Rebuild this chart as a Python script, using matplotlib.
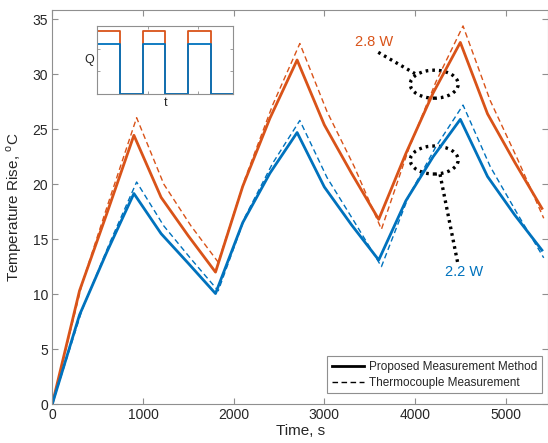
import matplotlib
matplotlib.use("Agg")
import matplotlib.pyplot as plt
from matplotlib.patches import Ellipse

plt.rcParams['font.family'] = ['Liberation Sans', 'DejaVu Sans']
plt.rcParams['mathtext.fontset'] = 'custom'
plt.rcParams['mathtext.rm'] = 'Liberation Sans'

# ---- data ----
time_s = [0, 300, 600, 900, 1200, 1500, 1800, 2100, 2400, 2700, 3000, 3300,
          3600, 3900, 4200, 4500, 4800, 5100, 5400]
time_tc = [0, 330, 630, 930, 1230, 1530, 1830, 2130, 2430, 2730, 3030, 3330,
           3630, 3930, 4230, 4530, 4830, 5130, 5420]

red_proposed = [0, 10.3, 17.3, 24.45, 18.8, 15.3, 12.0, 19.8, 26.0, 31.3, 25.4, 21.0,
                16.8, 22.8, 28.3, 32.9, 26.4, 22.0, 17.8]
blue_proposed = [0, 8.1, 13.8, 19.15, 15.5, 12.8, 10.05, 16.5, 21.0, 24.7, 19.75, 16.3,
                 13.1, 18.5, 22.5, 25.9, 20.7, 17.2, 14.0]
red_tc = [0, 11.0, 18.6, 26.05, 20.0, 16.2, 12.9, 20.6, 27.2, 32.8, 26.6, 21.6,
          15.9, 23.2, 29.3, 34.4, 27.6, 22.3, 16.9]
blue_tc = [0, 8.6, 14.6, 20.2, 16.2, 13.2, 10.3, 17.1, 21.9, 25.8, 20.6, 16.6,
           12.5, 18.9, 23.4, 27.2, 21.6, 17.3, 13.3]

# inset heat input square wave
q_time = [0, 900, 900, 1800, 1800, 2700, 2700, 3600, 3600, 4500, 4500, 5400]
q_high_red = [2.8, 2.8, 0, 0, 2.8, 2.8, 0, 0, 2.8, 2.8, 0, 0]
q_high_blue = [2.2, 2.2, 0, 0, 2.2, 2.2, 0, 0, 2.2, 2.2, 0, 0]

xticks = [0, 1000, 2000, 3000, 4000, 5000]
yticks = [0, 5, 10, 15, 20, 25, 30, 35]

# annotations
ell_28 = (4212, 29.1)
ell_22 = (4212, 22.2)
lead_28_x, lead_28_y = [3595, 4000], [32.0, 30.06]
lead_22_x, lead_22_y = [4276, 4477], [20.9, 12.6]

RED = '#D95319'
BLUE = '#0072BD'
AX = '#8f8f8f'
TXT = '#262626'
DOTS = (0, (0.8, 1.2))

W, H = 548, 443
fig = plt.figure(figsize=(W / 100, H / 100), dpi=100)
ax = fig.add_axes([52.3 / W, (H - 404) / H, (548 - 52.3) / W, (404 - 10) / H])

ax.plot(time_s, red_proposed, color=RED, lw=2.0)
ax.plot(time_tc, red_tc, color=RED, lw=1.0, ls=(0, (4, 2.5)))
ax.plot(time_s, blue_proposed, color=BLUE, lw=2.0)
ax.plot(time_tc, blue_tc, color=BLUE, lw=1.0, ls=(0, (4, 2.5)))

ax.set_xlim(0, 5467)
ax.set_ylim(0, 35.85)
ax.set_xticks(xticks)
ax.set_yticks(yticks)
ax.tick_params(direction='in', length=4, width=0.8, color=AX, labelcolor=TXT,
               labelsize=10, top=True, right=True, pad=3)
for s in ax.spines.values():
    s.set_color(AX)
    s.set_linewidth(0.8)
ax.set_xlabel('Time, s', fontsize=11, color=TXT, labelpad=1)
ax.set_ylabel(r'Temperature Rise, $^{\rm o}$C', fontsize=11, color=TXT, labelpad=6)

# legend
h1, = ax.plot([], [], color='black', lw=2.0)
h2, = ax.plot([], [], color='black', lw=1.0, ls=(0, (4, 2.5)))
leg = ax.legend([h1, h2], ['Proposed Measurement Method', 'Thermocouple Measurement'],
                loc='lower right', bbox_to_anchor=(0.987, 0.027), borderaxespad=0,
                fontsize=8.5, handlelength=2.7, handletextpad=0.4, labelspacing=0.3,
                borderpad=0.4, fancybox=False, framealpha=1)
leg.get_frame().set_edgecolor(AX)
leg.get_frame().set_linewidth(0.8)
for t in leg.get_texts():
    t.set_color(TXT)

# ellipses and leaders
for c in (ell_28, ell_22):
    ax.add_patch(Ellipse(c, width=529, height=2.55, fill=False, ec='black',
                         lw=2.4, ls=DOTS))
ax.plot(lead_28_x, lead_28_y, color='black', lw=2.4, ls=DOTS)
ax.plot(lead_22_x, lead_22_y, color='black', lw=2.4, ls=DOTS)
ax.text(374, H - 42, '2.8 W', transform=None, color=RED, fontsize=10.5,
        ha='center', va='center')
ax.text(464, H - 272.5, '2.2 W', transform=None, color=BLUE, fontsize=10.5,
        ha='center', va='center')

# inset
ins = fig.add_axes([97.3 / W, (H - 94) / H, (233.3 - 97.3) / W, (94 - 26) / H])
ins.plot(q_time, q_high_red, color=RED, lw=1.3)
ins.plot(q_time, q_high_blue, color=BLUE, lw=1.3)
ins.set_xlim(0, 5400)
ins.set_ylim(0, 3)
ins.set_xticks([2000, 4000])
ins.set_yticks([1, 2])
ins.tick_params(direction='in', length=2.5, width=0.6, color=AX, top=True, right=True,
                labelbottom=False, labelleft=False)
for s in ins.spines.values():
    s.set_color(AX)
    s.set_linewidth(0.8)
ins.set_xlabel('t', fontsize=9, color=TXT, labelpad=2)
ins.set_ylabel('Q', fontsize=9, color=TXT, labelpad=6, rotation=0, va='center')

fig.savefig('out.png', dpi=100)
